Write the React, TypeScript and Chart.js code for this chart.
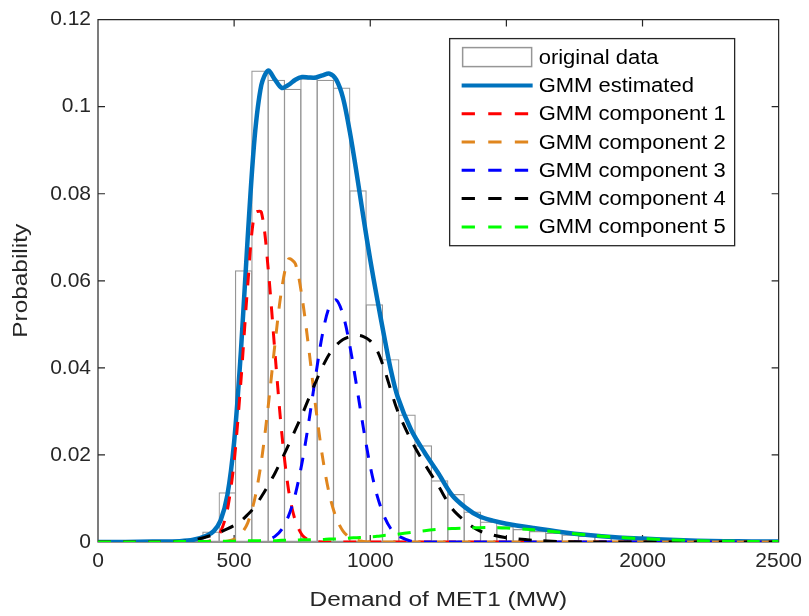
import React, { useEffect, useRef } from 'react';
import { Chart, registerables } from 'chart.js';

Chart.register(...registerables);

// ---------- data ----------
const seriesLabels = [
  'original data',
  'GMM estimated',
  'GMM component 1',
  'GMM component 2',
  'GMM component 3',
  'GMM component 4',
  'GMM component 5',
];

// histogram bin centres (MW) and probabilities
const binCenters = [415, 475, 535, 595, 655, 715, 775, 835, 895, 955, 1015, 1075, 1135, 1195, 1255, 1315, 1375, 1435, 1495, 1555, 1615, 1675, 1735, 1795, 1855, 1915, 1975, 2035, 2095, 2155];
const binValues = [0.0024, 0.0114, 0.0624, 0.1083, 0.1062, 0.1041, 0.1065, 0.1062, 0.1044, 0.0808, 0.0546, 0.0420, 0.0293, 0.0222, 0.0142, 0.0110, 0.0070, 0.0047, 0.0036, 0.0030, 0.0025, 0.0021, 0.0017, 0.0014, 0.0012, 0.0009, 0.0007, 0.0005, 0.0004, 0.0003];

// common x grid for the curves (MW)
const curveX = [0, 100, 200, 300, 350, 400, 425, 450, 475, 500, 525, 550, 575, 600, 625, 650, 675, 700, 725, 750, 775, 800, 825, 850, 875, 900, 925, 950, 975, 1000, 1025, 1050, 1075, 1100, 1150, 1200, 1250, 1300, 1350, 1400, 1450, 1500, 1600, 1700, 1800, 1900, 2000, 2100, 2200, 2300, 2400, 2500];

const gmmEstimated = [0, 0, 0.0001, 0.0002, 0.0005, 0.0015, 0.0025, 0.0049, 0.0107, 0.0230, 0.0439, 0.0701, 0.0927, 0.1050, 0.1083, 0.1062, 0.1043, 0.1050, 0.1062, 0.1068, 0.1067, 0.1067, 0.1072, 0.1076, 0.1062, 0.1020, 0.0942, 0.0847, 0.0745, 0.0648, 0.0560, 0.0476, 0.0397, 0.0335, 0.0258, 0.0205, 0.0158, 0.0108, 0.0079, 0.0059, 0.0049, 0.0042, 0.0032, 0.0023, 0.0016, 0.0011, 0.0008, 0.0005, 0.0003, 0.0002, 0.0001, 0.0001];

const component1 = [0, 0, 0, 0, 0, 0.0001, 0.0006, 0.0023, 0.0073, 0.0184, 0.0370, 0.0590, 0.0755, 0.0758, 0.0628, 0.0435, 0.0250, 0.0119, 0.0048, 0.0016, 0.0004, 0.0001, 0, 0, 0, 0, 0, 0, 0, 0, 0, 0, 0, 0, 0, 0, 0, 0, 0, 0, 0, 0, 0, 0, 0, 0, 0, 0, 0, 0, 0, 0];

const component2 = [0, 0, 0, 0, 0, 0, 0, 0.0001, 0.0002, 0.0006, 0.0018, 0.0044, 0.0097, 0.0185, 0.0311, 0.0455, 0.0582, 0.0650, 0.0639, 0.0560, 0.0440, 0.0308, 0.0194, 0.0109, 0.0055, 0.0025, 0.0010, 0.0004, 0.0001, 0, 0, 0, 0, 0, 0, 0, 0, 0, 0, 0, 0, 0, 0, 0, 0, 0, 0, 0, 0, 0, 0, 0];

const component3 = [0, 0, 0, 0, 0, 0, 0, 0, 0, 0, 0, 0.0001, 0.0001, 0.0002, 0.0005, 0.0013, 0.0029, 0.0060, 0.0110, 0.0184, 0.0279, 0.0384, 0.0479, 0.0541, 0.0556, 0.0522, 0.0451, 0.0358, 0.0261, 0.0174, 0.0107, 0.0061, 0.0031, 0.0015, 0.0002, 0, 0, 0, 0, 0, 0, 0, 0, 0, 0, 0, 0, 0, 0, 0, 0, 0];

const component4 = [0, 0, 0, 0.0001, 0.0004, 0.0012, 0.0017, 0.0023, 0.0030, 0.0038, 0.0048, 0.0063, 0.0080, 0.0104, 0.0130, 0.0158, 0.0190, 0.0223, 0.0258, 0.0293, 0.0331, 0.0368, 0.0403, 0.0432, 0.0452, 0.0465, 0.0472, 0.0475, 0.0472, 0.0462, 0.0440, 0.0400, 0.0350, 0.0302, 0.0234, 0.0179, 0.0129, 0.0077, 0.0047, 0.0026, 0.0016, 0.0010, 0.0004, 0.0001, 0, 0, 0, 0, 0, 0, 0, 0];

const component5 = [0, 0, 0, 0.0001, 0.0001, 0.0001, 0.0002, 0.0002, 0.0002, 0.0002, 0.0003, 0.0003, 0.0003, 0.0003, 0.0003, 0.0003, 0.0004, 0.0004, 0.0004, 0.0005, 0.0005, 0.0006, 0.0006, 0.0007, 0.0007, 0.0008, 0.0009, 0.0010, 0.0011, 0.0012, 0.0013, 0.0015, 0.0016, 0.0018, 0.0022, 0.0026, 0.0029, 0.0031, 0.0032, 0.0033, 0.0033, 0.0032, 0.0028, 0.0022, 0.0016, 0.0011, 0.0008, 0.0005, 0.0003, 0.0002, 0.0001, 0.0001];

const xTickValues = [0, 500, 1000, 1500, 2000, 2500];
const xTickLabels = ['0', '500', '1000', '1500', '2000', '2500'];
const yTickValues = [0, 0.02, 0.04, 0.06, 0.08, 0.1, 0.12];
const yTickLabels = ['0', '0.02', '0.04', '0.06', '0.08', '0.1', '0.12'];

const xTitle = 'Demand of MET1 (MW)';
const yTitle = 'Probability';

// ---------- styles ----------
const FONT = '"Liberation Sans", Arial, Helvetica, sans-serif';
const AXIS_COLOR = '#262626';
const DASH = [13, 12];

const toPoints = (xs: number[], ys: number[]) => xs.map((x, i) => ({ x, y: ys[i] }));

const framePlugin = {
  id: 'matlabFrame',
  beforeDatasetsDraw(chart: any) {
    const { ctx, chartArea: a, scales } = chart;
    ctx.save();
    ctx.strokeStyle = AXIS_COLOR;
    ctx.lineWidth = 1.2;
    ctx.beginPath();
    ctx.rect(a.left, a.top, a.right - a.left, a.bottom - a.top);
    const tl = 7;
    xTickValues.forEach((v) => {
      const px = scales.x.getPixelForValue(v);
      ctx.moveTo(px, a.bottom);
      ctx.lineTo(px, a.bottom - tl);
      ctx.moveTo(px, a.top);
      ctx.lineTo(px, a.top + tl);
    });
    yTickValues.forEach((v) => {
      const py = scales.y.getPixelForValue(v);
      ctx.moveTo(a.left, py);
      ctx.lineTo(a.left + tl, py);
      ctx.moveTo(a.right, py);
      ctx.lineTo(a.right - tl, py);
    });
    ctx.stroke();
    ctx.restore();
  },
};

// axis titles drawn with a slight horizontal stretch, like the reference's rendering
const titlePlugin = {
  id: 'axisTitles',
  afterDraw(chart: any) {
    const { ctx, chartArea: a } = chart;
    ctx.save();
    ctx.fillStyle = AXIS_COLOR;
    ctx.font = `20px ${FONT}`;
    ctx.textAlign = 'center';
    ctx.textBaseline = 'middle';
    ctx.save();
    ctx.translate((a.left + a.right) / 2, a.bottom + 58);
    ctx.scale(1.22, 1);
    ctx.fillText(xTitle, 0, 0);
    ctx.restore();
    ctx.save();
    ctx.translate(21, (a.top + a.bottom) / 2);
    ctx.rotate(-Math.PI / 2);
    ctx.scale(1.22, 1);
    ctx.fillText(yTitle, 0, 0);
    ctx.restore();
    ctx.restore();
  },
};

const legendPlugin = {
  id: 'insideLegend',
  afterDraw(chart: any) {
    const { ctx, chartArea: a } = chart;
    const ds = chart.data.datasets;
    const boxW = 285;
    const rowH = 28.3;
    const boxRight = a.right - 44;
    const boxLeft = boxRight - boxW;
    const boxTop = a.top + 19;
    const boxH = ds.length * rowH + 9;
    ctx.save();
    ctx.fillStyle = '#ffffff';
    ctx.fillRect(boxLeft, boxTop, boxW, boxH);
    ctx.strokeStyle = AXIS_COLOR;
    ctx.lineWidth = 1.3;
    ctx.strokeRect(boxLeft, boxTop, boxW, boxH);
    ds.forEach((d: any, i: number) => {
      const cy = boxTop + 18.5 + i * rowH;
      const x0 = boxLeft + 12;
      const x1 = boxLeft + 83;
      if (d.type === 'bar') {
        ctx.setLineDash([]);
        ctx.strokeStyle = d.borderColor;
        ctx.lineWidth = 1.5;
        ctx.strokeRect(x0 + 1, cy - 9.5, x1 - x0 - 2, 19);
      } else {
        ctx.setLineDash(d.borderDash ? [13.3, 13.3] : []);
        ctx.strokeStyle = d.borderColor;
        ctx.lineWidth = d.borderDash ? d.borderWidth : 4;
        ctx.beginPath();
        ctx.moveTo(x0, cy);
        ctx.lineTo(x1, cy);
        ctx.stroke();
        ctx.setLineDash([]);
      }
      ctx.save();
      ctx.fillStyle = '#000000';
      ctx.font = `20px ${FONT}`;
      ctx.textBaseline = 'middle';
      ctx.textAlign = 'left';
      ctx.translate(boxLeft + 89, cy + 1);
      ctx.scale(1.1, 1);
      ctx.fillText(d.label, 0, 0);
      ctx.restore();
    });
    ctx.restore();
  },
};

export default function App() {
  const ref = useRef<HTMLCanvasElement>(null);

  useEffect(() => {
    const canvas = ref.current;
    if (!canvas) return;

    const lineDs = (label: string, ys: number[], color: string, width: number, dash: number[] | null, order: number) => ({
      type: 'line' as const,
      label,
      data: toPoints(curveX, ys),
      borderColor: color,
      backgroundColor: color,
      borderWidth: width,
      borderDash: dash || undefined,
      pointRadius: 0,
      tension: 0.3,
      fill: false,
      order,
    });

    const chart = new Chart(canvas, {
      type: 'line',
      data: {
        datasets: [
          {
            type: 'bar',
            label: seriesLabels[0],
            data: toPoints(binCenters, binValues),
            backgroundColor: 'rgba(255,255,255,0)',
            borderColor: '#969696',
            borderWidth: 1.2,
            borderSkipped: false,
            inflateAmount: 0,
            barPercentage: 1.07,
            categoryPercentage: 1,
            order: 7,
          } as any,
          lineDs(seriesLabels[1], gmmEstimated, '#0072BD', 4.5, null, 6),
          lineDs(seriesLabels[2], component1, '#FF0000', 3, DASH, 5),
          lineDs(seriesLabels[3], component2, '#E0861E', 3, DASH, 4),
          lineDs(seriesLabels[4], component3, '#0000FF', 3, DASH, 3),
          lineDs(seriesLabels[5], component4, '#000000', 3, DASH, 2),
          lineDs(seriesLabels[6], component5, '#00FF00', 3, DASH, 1),
        ],
      },
      options: {
        responsive: false,
        animation: false,
        devicePixelRatio: 1,
        layout: { padding: { top: 17, right: 29, left: 0, bottom: 0 } },
        plugins: {
          legend: { display: false },
          tooltip: { enabled: false },
        },
        scales: {
          x: {
            type: 'linear',
            min: 0,
            max: 2500,
            offset: false,
            grid: { display: false, drawTicks: false },
            border: { display: false },
            afterBuildTicks: (s: any) => {
              s.ticks = xTickValues.map((v) => ({ value: v }));
            },
            afterFit: (s: any) => {
              s.height = 74;
            },
            ticks: {
              autoSkip: false,
              maxRotation: 0,
              padding: 7,
              color: AXIS_COLOR,
              font: { family: FONT, size: 21 },
              callback: (_v: any, i: number) => xTickLabels[i],
            },
            title: { display: false, text: xTitle },
          },
          y: {
            type: 'linear',
            min: 0,
            max: 0.12,
            grid: { display: false, drawTicks: false },
            border: { display: false },
            afterBuildTicks: (s: any) => {
              s.ticks = yTickValues.map((v) => ({ value: v }));
            },
            afterFit: (s: any) => {
              s.width = 98;
            },
            ticks: {
              autoSkip: false,
              padding: 7,
              color: AXIS_COLOR,
              font: { family: FONT, size: 21 },
              callback: (_v: any, i: number) => yTickLabels[i],
            },
            title: { display: false, text: yTitle },
          },
        },
      } as any,
      plugins: [framePlugin, titlePlugin, legendPlugin],
    });

    return () => chart.destroy();
  }, []);

  return (
    <div style={{ position: 'absolute', left: 0, top: 0, width: 809, height: 616, background: '#ffffff' }}>
      <canvas ref={ref} width={809} height={616} style={{ display: 'block' }} />
    </div>
  );
}
